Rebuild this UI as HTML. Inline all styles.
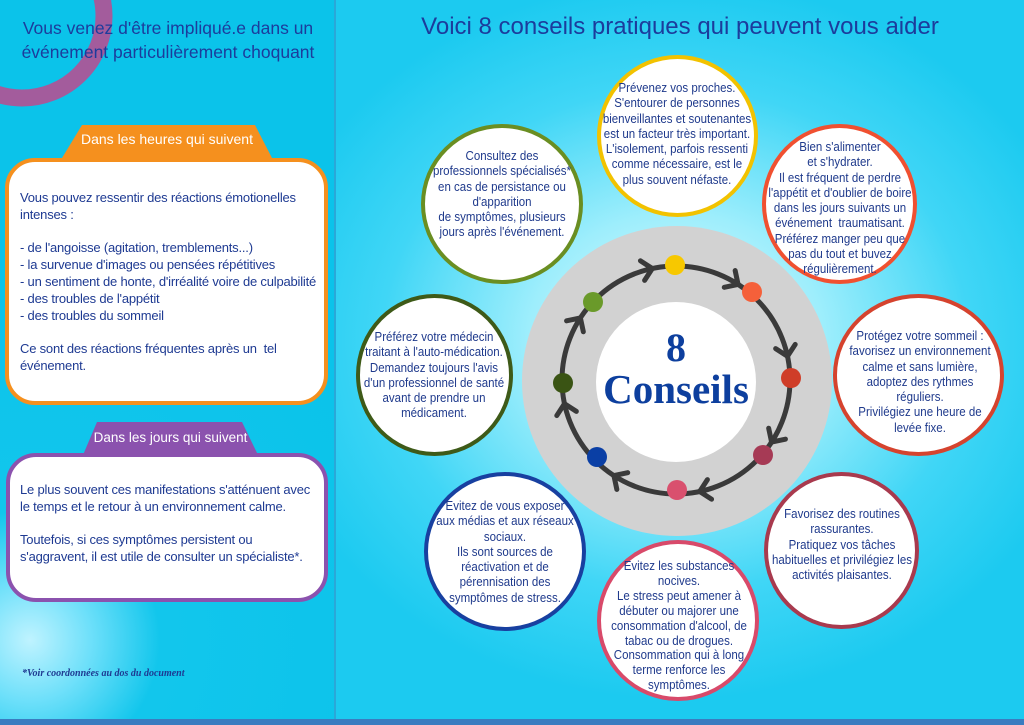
<!DOCTYPE html>
<html><head><meta charset="utf-8"><style>
*{margin:0;padding:0;box-sizing:border-box}
body{width:1024px;height:725px;overflow:hidden;position:relative;font-family:"Liberation Sans",sans-serif;background:#12c8ef}
.l{position:absolute;left:0;top:0;width:336px;height:720px;background:radial-gradient(circle at 30px 640px,#bff3ff 0,#6fe0fa 60px,#12c6ec 130px,#0bc3ea 400px);border-right:2px solid #2aa8d8}
.r{position:absolute;left:336px;top:0;width:688px;height:720px;background:radial-gradient(ellipse 420px 360px at 340px 340px,#e6fbff 0,#9eeefc 35%,#40d6f6 70%,#1ccaf0 100%)}
.bot{position:absolute;left:0;top:719px;width:1024px;height:6px;background:#3a7cc0}
.t{position:absolute;color:#1c3c9c;text-align:center}
.c{position:absolute;border-radius:50%;background:#fff;border:4px solid}
.tx{position:absolute;text-align:center;color:#1f3a8c;font-size:12.5px;line-height:15.3px;transform:translateX(-50%) scaleX(0.92);white-space:nowrap}
.box{position:absolute;background:#fff;border:4px solid;border-radius:30px;color:#1e3a92;font-size:13px;line-height:16.8px;padding-left:11px;white-space:nowrap;letter-spacing:-0.2px}
.tab{position:absolute;color:#fff;font-size:14px;text-align:center}
</style></head><body>
<div class="l"></div><div class="r"></div><div class="bot"></div>
<svg style="position:absolute;left:0;top:0" width="336" height="130"><circle cx="22" cy="16" r="82" fill="none" stroke="#a35c9c" stroke-width="17"/></svg>
<div class="t" style="left:0;width:336px;top:16px;font-size:17.5px;line-height:24px">Vous venez d'être impliqué.e dans un<br>événement particulièrement choquant</div>
<svg style="position:absolute;left:0;top:120px" width="336" height="40"><polygon points="82,5 255,5 272,38 62,38" fill="#f5901e"/></svg>
<div class="tab" style="left:62px;width:210px;top:131px">Dans les heures qui suivent</div>
<div class="box" style="left:5px;top:158px;width:323px;height:247px;border-color:#f5901e;padding-top:28px">Vous pouvez ressentir des réactions émotionelles<br>intenses :<br><br>- de l'angoisse (agitation, tremblements...)<br>- la survenue d'images ou pensées répétitives<br>- un sentiment de honte, d'irréalité voire de culpabilité<br>- des troubles de l'appétit<br>- des troubles du sommeil<br><br>Ce sont des réactions fréquentes après un&nbsp; tel<br>événement.</div>
<svg style="position:absolute;left:0;top:418px" width="336" height="40"><polygon points="97,4 242,4 258,37 83,37" fill="#8b52ae"/></svg>
<div class="tab" style="left:83px;width:175px;top:430px;font-size:13.5px">Dans les jours qui suivent</div>
<div class="box" style="left:6px;top:453px;width:322px;height:149px;border-color:#8b52ae;padding-top:25px;padding-left:10px">Le plus souvent ces manifestations s'atténuent avec<br>le temps et le retour à un environnement calme.<br><br>Toutefois, si ces symptômes persistent ou<br>s'aggravent, il est utile de consulter un spécialiste*.</div>
<div style="position:absolute;left:22px;top:668px;font-family:'Liberation Serif',serif;font-style:italic;font-weight:bold;font-size:10px;color:#1e3a92">*Voir coordonnées au dos du document</div>

<div class="t" style="left:336px;width:688px;top:13px;font-size:24px">Voici 8 conseils pratiques qui peuvent vous aider</div>

<svg style="position:absolute;left:0;top:0" width="1024" height="725">
<circle cx="677" cy="381" r="155" fill="#d2d2d2"/>
<circle cx="676" cy="382" r="80" fill="#fff"/>
<circle cx="676" cy="380" r="114" fill="none" stroke="#3a3a3a" stroke-width="5"/>
<g fill="none" stroke="#3a3a3a" stroke-width="5" stroke-linecap="round" stroke-linejoin="round">
<g transform="rotate(-12 676 380)"><polyline points="666,256 676,266 666,276"/></g>
<g transform="rotate(33 676 380)"><polyline points="666,256 676,266 666,276"/></g>
<g transform="rotate(78 676 380)"><polyline points="666,256 676,266 666,276"/></g>
<g transform="rotate(123 676 380)"><polyline points="666,256 676,266 666,276"/></g>
<g transform="rotate(168 676 380)"><polyline points="666,256 676,266 666,276"/></g>
<g transform="rotate(213 676 380)"><polyline points="666,256 676,266 666,276"/></g>
<g transform="rotate(258 676 380)"><polyline points="666,256 676,266 666,276"/></g>
<g transform="rotate(303 676 380)"><polyline points="666,256 676,266 666,276"/></g>
</g>
<circle cx="675" cy="265" r="10" fill="#f7c800"/>
<circle cx="752" cy="292" r="10" fill="#f5603a"/>
<circle cx="791" cy="378" r="10" fill="#cf3d28"/>
<circle cx="763" cy="455" r="10" fill="#a63a55"/>
<circle cx="677" cy="490" r="10" fill="#d9506e"/>
<circle cx="597" cy="457" r="10" fill="#0a3fa5"/>
<circle cx="563" cy="383" r="10" fill="#3a5414"/>
<circle cx="593" cy="302" r="10" fill="#6a9a2a"/>
<text x="676" y="361" text-anchor="middle" font-family="Liberation Serif,serif" font-weight="bold" font-size="40" fill="#0d3f9e">8</text>
<text x="676" y="403" text-anchor="middle" font-family="Liberation Serif,serif" font-weight="bold" font-size="41" fill="#0d3f9e">Conseils</text>
</svg>

<div class="c" style="left:597px;top:55px;width:161px;height:162px;border-color:#f2c200"></div>
<div class="c" style="left:762px;top:124px;width:155px;height:160px;border-color:#f05030"></div>
<div class="c" style="left:833px;top:294px;width:171px;height:162px;border-color:#d5432e"></div>
<div class="c" style="left:764px;top:472px;width:155px;height:157px;border-color:#a83a4e"></div>
<div class="c" style="left:597px;top:540px;width:162px;height:161px;border-color:#d84a6a"></div>
<div class="c" style="left:424px;top:472px;width:162px;height:159px;border-color:#1840a0"></div>
<div class="c" style="left:356px;top:294px;width:157px;height:162px;border-color:#3e5a18"></div>
<div class="c" style="left:421px;top:124px;width:162px;height:160px;border-color:#6a8e22"></div>

<div class="tx" style="left:677px;top:81px">Prévenez vos proches.<br>S'entourer de personnes<br>bienveillantes et soutenantes<br>est un facteur très important.<br>L'isolement, parfois ressenti<br>comme nécessaire, est le<br>plus souvent néfaste.</div>
<div class="tx" style="left:840px;top:140px">Bien s'alimenter<br>et s'hydrater.<br>Il est fréquent de perdre<br>l'appétit et d'oublier de boire<br>dans les jours suivants un<br>événement&nbsp; traumatisant.<br>Préférez manger peu que<br>pas du tout et buvez<br>régulièrement.</div>
<div class="tx" style="left:920px;top:329px">Protégez votre sommeil :<br>favorisez un environnement<br>calme et sans lumière,<br>adoptez des rythmes<br>réguliers.<br>Privilégiez une heure de<br>levée fixe.</div>
<div class="tx" style="left:842px;top:507px">Favorisez des routines<br>rassurantes.<br>Pratiquez vos tâches<br>habituelles et privilégiez les<br>activités plaisantes.</div>
<div class="tx" style="left:679px;top:559px;line-height:14.9px">Evitez les substances<br>nocives.<br>Le stress peut amener à<br>débuter ou majorer une<br>consommation d'alcool, de<br>tabac ou de drogues.<br>Consommation qui à long<br>terme renforce les<br>symptômes.</div>
<div class="tx" style="left:505px;top:499px">Evitez de vous exposer<br>aux médias et aux réseaux<br>sociaux.<br>Ils sont sources de<br>réactivation et de<br>pérennisation des<br>symptômes de stress.</div>
<div class="tx" style="left:434px;top:330px">Préférez votre médecin<br>traitant à l'auto-médication.<br>Demandez toujours l'avis<br>d'un professionnel de santé<br>avant de prendre un<br>médicament.</div>
<div class="tx" style="left:502px;top:149px">Consultez des<br>professionnels spécialisés*<br>en cas de persistance ou<br>d'apparition<br>de symptômes, plusieurs<br>jours après l'événement.</div>
</body></html>
